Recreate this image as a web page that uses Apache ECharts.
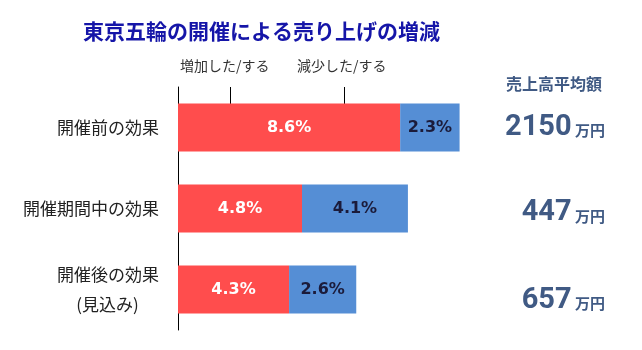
<!DOCTYPE html>
<html><head><meta charset="utf-8">
<script src="https://cdn.jsdelivr.net/npm/echarts@6/dist/echarts.min.js"></script>
<style>html,body{margin:0;padding:0;background:#fff}#c{width:642px;height:350px}</style>
</head><body><div id="c"></div>
<script>
const categories = ['開催前の効果', '開催期間中の効果', '開催後の効果\n(見込み)'];
const increased = [8.6, 4.8, 4.3];
const decreased = [2.3, 4.1, 2.6];
const avgSales = [2150, 447, 657];
const seriesNames = ['増加した/する', '減少した/する'];
const title = '東京五輪の開催による売り上げの増減';
const avgTitle = '売上高平均額';
const unit = '万円';

const jp = '"Noto Sans CJK JP", "Noto Sans", sans-serif';
const numColor = '#405a84';
const chart = echarts.init(document.getElementById('c'));
chart.setOption({
  animation: false,
  title: {
    text: title, left: 78, top: 16,
    textStyle: { fontFamily: jp, fontSize: 21, fontWeight: 'bold', color: '#1515a8' }
  },
  grid: { left: 178, top: 87, width: 310, height: 243 },
  xAxis: { type: 'value', min: 0, max: 12, show: false },
  yAxis: [{
    type: 'category', data: categories, inverse: true,
    axisLine: { show: true, lineStyle: { color: '#000', width: 1 } },
    axisTick: { show: false },
    axisLabel: {
      margin: 19, fontFamily: jp, fontSize: 17, color: '#222',
      formatter: function (v) {
        const parts = v.split('\n');
        if (parts.length === 1) return '{a|' + v + '}';
        return '{a|' + parts[0] + '}\n{b|' + parts[1] + '}';
      },
      rich: {
        a: { fontFamily: jp, fontSize: 17, color: '#222', lineHeight: 30 },
        b: { fontFamily: jp, fontSize: 17, color: '#222', lineHeight: 30, width: 103, align: 'center' }
      }
    }
  }, {
    type: 'category', data: avgSales.map(String), inverse: true, position: 'right',
    axisLine: { show: false }, axisTick: { show: false },
    axisLabel: {
      margin: 117, align: 'right',
      formatter: function (v, i) {
        const s = ['n0', 'n1', 'n2'][i];
        return '{' + s + '|' + v + '}{u| ' + unit + '}';
      },
      rich: {
        n0: { fontFamily: 'Roboto, sans-serif', fontSize: 29, fontWeight: 'bold', color: numColor, padding: [0, 0, 0, 0] },
        n1: { fontFamily: 'Roboto, sans-serif', fontSize: 29, fontWeight: 'bold', color: numColor, padding: [9, 0, 0, 0] },
        n2: { fontFamily: 'Roboto, sans-serif', fontSize: 29, fontWeight: 'bold', color: numColor, padding: [22, 0, 0, 0] },
        u: { fontFamily: jp, fontSize: 15, fontWeight: 'bold', color: numColor, verticalAlign: 'bottom', padding: [0, 0, 4, 0] }
      }
    }
  }],
  series: [{
    name: seriesNames[0], type: 'bar', stack: 't', data: increased, barWidth: 48,
    itemStyle: { color: '#ff4d4d' },
    label: { show: true, position: 'inside', formatter: '{c}%', color: '#fff',
      fontFamily: '"DejaVu Sans", Verdana, sans-serif', fontWeight: 'bold', fontSize: 16 }
  }, {
    name: seriesNames[1], type: 'bar', stack: 't', data: decreased, barWidth: 48,
    itemStyle: { color: '#558ed5' },
    label: { show: true, position: 'inside', formatter: '{c}%', color: '#1b1b3a',
      fontFamily: '"DejaVu Sans", Verdana, sans-serif', fontWeight: 'bold', fontSize: 16 }
  }],
  graphic: [
    { type: 'text', left: 180, top: 59, style: { text: seriesNames[0], fontFamily: jp, fontSize: 14, fill: '#333' } },
    { type: 'text', left: 297, top: 59, style: { text: seriesNames[1], fontFamily: jp, fontSize: 14, fill: '#333' } },
    { type: 'line', shape: { x1: 230.5, y1: 87, x2: 230.5, y2: 104 }, style: { stroke: '#000', lineWidth: 1 } },
    { type: 'line', shape: { x1: 344.5, y1: 87, x2: 344.5, y2: 104 }, style: { stroke: '#000', lineWidth: 1 } },
    { type: 'text', left: 506, top: 76, style: { text: avgTitle, fontFamily: jp, fontSize: 16, fontWeight: 'bold', fill: numColor } }
  ]
});
</script></body></html>
